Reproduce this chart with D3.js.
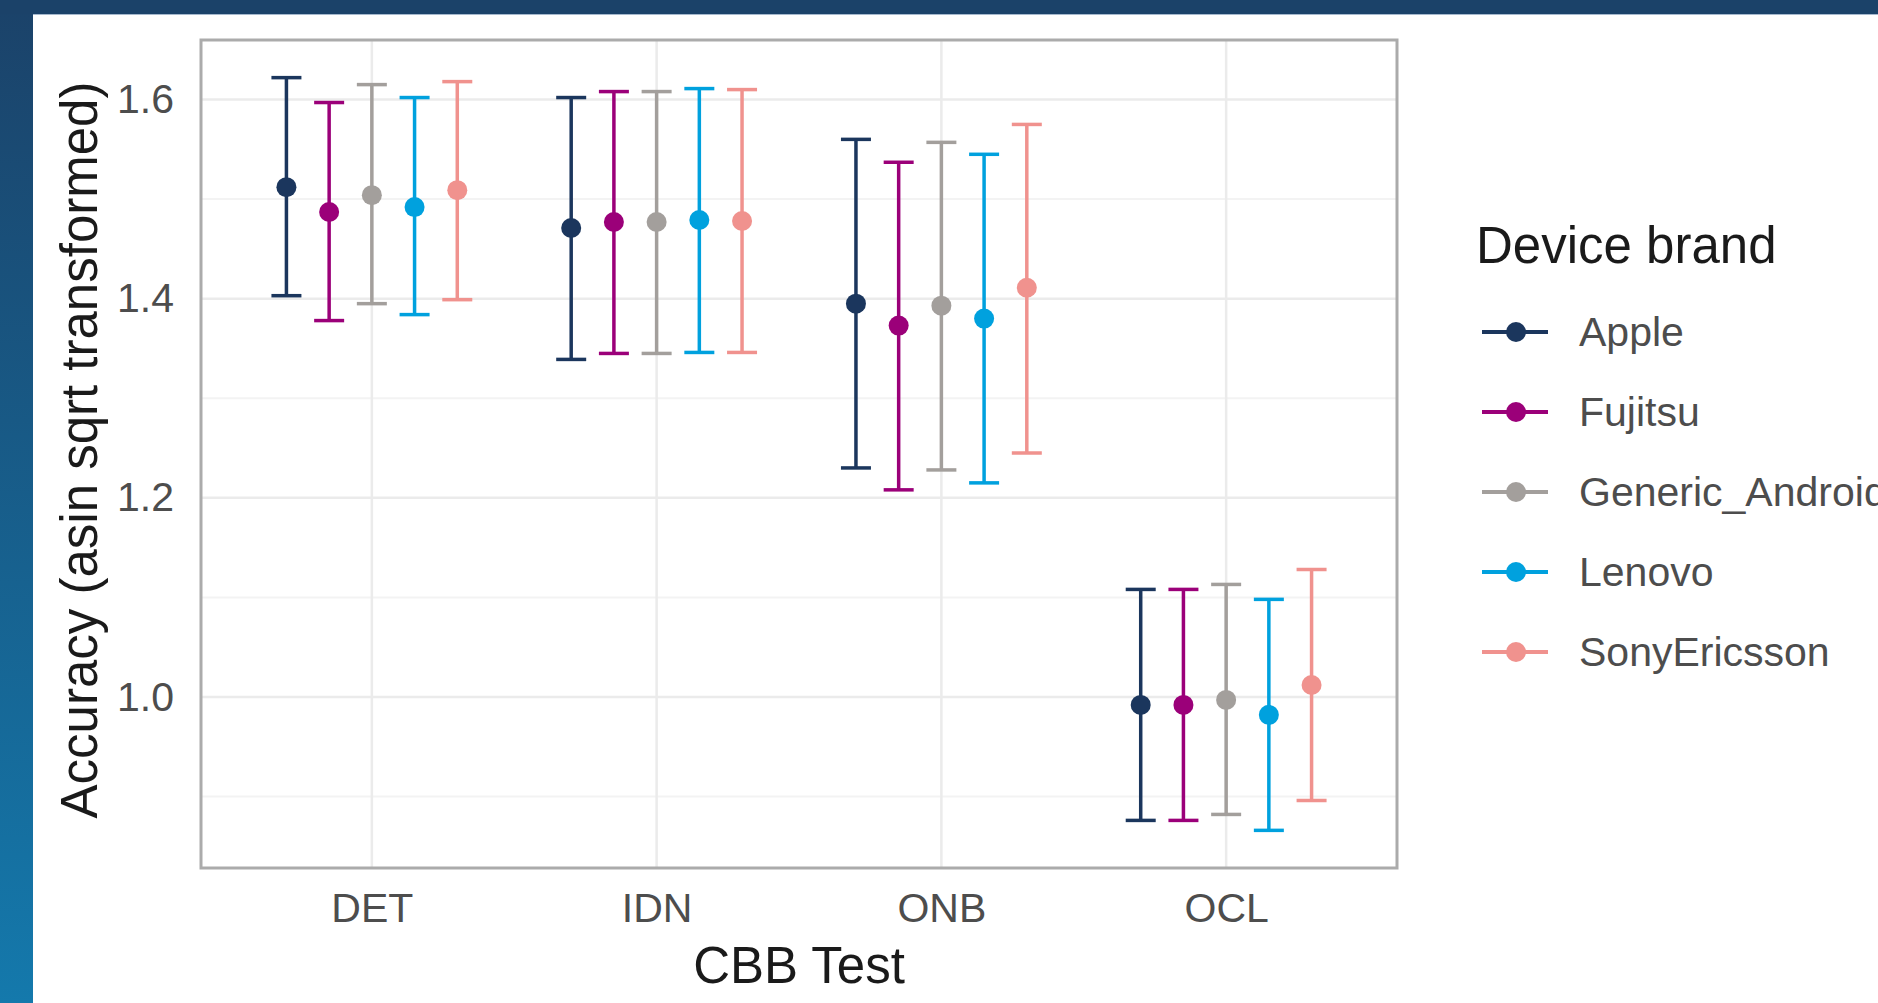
<html>
<head>
<style>
    body { margin: 0; background: #fff; }
    svg text { font-family: "Liberation Sans", Arial, sans-serif; }
</style>
</head>
<body>
    <svg id="chart" width="1878" height="1003"></svg>
<script src="https://d3js.org/d3.v7.min.js" charset="utf-8"></script>
<script>
    // categories / series
    const tests = ["DET", "IDN", "ONB", "OCL"]
    const brands = ["Apple", "Fujitsu", "Generic_Android", "Lenovo", "SonyEricsson"]
    const brandColors = ["#1b365d", "#9b0079", "#a39f9c", "#00a1de", "#f0928e"]

    // estimated mean, one row per brand, one value per test
    const meanAcc = [
        [1.512, 1.471, 1.395, 0.992],
        [1.487, 1.477, 1.373, 0.992],
        [1.504, 1.477, 1.393, 0.997],
        [1.492, 1.479, 1.380, 0.982],
        [1.509, 1.478, 1.411, 1.012]
    ]
    const lowerCI = [
        [1.403, 1.339, 1.230, 0.876],
        [1.378, 1.345, 1.208, 0.876],
        [1.395, 1.345, 1.228, 0.882],
        [1.384, 1.346, 1.215, 0.866],
        [1.399, 1.346, 1.245, 0.896]
    ]
    const upperCI = [
        [1.622, 1.602, 1.560, 1.108],
        [1.597, 1.608, 1.537, 1.108],
        [1.615, 1.608, 1.557, 1.113],
        [1.602, 1.611, 1.545, 1.098],
        [1.618, 1.610, 1.575, 1.128]
    ]

    const yTicks = [1.0, 1.2, 1.4, 1.6]
    const yMinor = [0.9, 1.1, 1.3, 1.5]

    // flatten to rows
    let data = []
    brands.forEach((b, i) => {
        tests.forEach((t, j) => {
            data.push({ brand: b, bi: i, test: t, mean: meanAcc[i][j], lo: lowerCI[i][j], hi: upperCI[i][j] })
        })
    })

    let svg = d3.select("#chart")
    let W = 1878, H = 1003
    let panel = { left: 201, top: 40, right: 1397, bottom: 868 }

    // background frame
    let defs = svg.append("defs")
    let grad = defs.append("linearGradient").attr("id", "sideGrad")
        .attr("x1", 0).attr("y1", 0).attr("x2", 0).attr("y2", 1)
    grad.append("stop").attr("offset", "0%").attr("stop-color", "#1b4269")
    grad.append("stop").attr("offset", "100%").attr("stop-color", "#1479ac")

    svg.append("rect").attr("width", W).attr("height", H).attr("fill", "#fff")
    svg.append("rect").attr("x", 0).attr("y", 0).attr("width", 33).attr("height", H).attr("fill", "url(#sideGrad)")
    svg.append("rect").attr("x", 0).attr("y", 0).attr("width", W).attr("height", 14).attr("fill", "#1b4269")
    svg.append("line").attr("x1", 33).attr("x2", W).attr("y1", 14.5).attr("y2", 14.5)
        .attr("stroke", "#a5b8cd").attr("stroke-width", 1)

    // scales
    let lo = d3.min(data, d => d.lo), hi = d3.max(data, d => d.hi)
    let pad = (hi - lo) * 0.05
    let yScale = d3.scaleLinear()
        .domain([lo - pad, hi + pad])
        .range([panel.bottom, panel.top])

    let xScale = d3.scalePoint()
        .domain(tests)
        .range([panel.left, panel.right])
        .padding(0.6)

    let dodge = xScale.step() * 0.15
    let xPos = d => xScale(d.test) + (d.bi - 2) * dodge
    let capHalf = 15

    // grid
    let grid = svg.append("g")
    grid.selectAll(".minor").data(yMinor).enter().append("line")
        .attr("x1", panel.left).attr("x2", panel.right)
        .attr("y1", d => yScale(d)).attr("y2", d => yScale(d))
        .attr("stroke", "#f3f3f3").attr("stroke-width", 2)
    grid.selectAll(".major").data(yTicks).enter().append("line")
        .attr("x1", panel.left).attr("x2", panel.right)
        .attr("y1", d => yScale(d)).attr("y2", d => yScale(d))
        .attr("stroke", "#ebebeb").attr("stroke-width", 2.5)
    grid.selectAll(".vmajor").data(tests).enter().append("line")
        .attr("x1", d => xScale(d)).attr("x2", d => xScale(d))
        .attr("y1", panel.top).attr("y2", panel.bottom)
        .attr("stroke", "#ebebeb").attr("stroke-width", 2.5)

    // error bars
    let marks = svg.append("g")
    let bars = marks.selectAll("g.bar").data(data).enter().append("g")
        .attr("stroke", d => brandColors[d.bi])
        .attr("fill", d => brandColors[d.bi])

    bars.append("line")
        .attr("x1", xPos).attr("x2", xPos)
        .attr("y1", d => yScale(d.lo)).attr("y2", d => yScale(d.hi))
        .attr("stroke-width", 3.5)
    bars.append("line")
        .attr("x1", d => xPos(d) - capHalf).attr("x2", d => xPos(d) + capHalf)
        .attr("y1", d => yScale(d.hi)).attr("y2", d => yScale(d.hi))
        .attr("stroke-width", 3.5)
    bars.append("line")
        .attr("x1", d => xPos(d) - capHalf).attr("x2", d => xPos(d) + capHalf)
        .attr("y1", d => yScale(d.lo)).attr("y2", d => yScale(d.lo))
        .attr("stroke-width", 3.5)
    bars.append("circle")
        .attr("cx", xPos).attr("cy", d => yScale(d.mean))
        .attr("r", 10).attr("stroke", "none")

    // panel border
    svg.append("rect")
        .attr("x", panel.left).attr("y", panel.top)
        .attr("width", panel.right - panel.left).attr("height", panel.bottom - panel.top)
        .attr("fill", "none").attr("stroke", "#ababab").attr("stroke-width", 3)

    // axes
    let yAxis = d3.axisLeft(yScale).tickValues(yTicks).tickFormat(d3.format(".1f"))
        .tickSize(0).tickPadding(27)
    let yG = svg.append("g").attr("transform", `translate(${panel.left},0)`).call(yAxis)
    yG.select(".domain").remove()
    yG.selectAll("text").attr("font-size", 41).attr("fill", "#4d4d4d")
        .style("font-family", "'Liberation Sans', Arial, sans-serif")

    let xAxis = d3.axisBottom(xScale).tickSize(0).tickPadding(25)
    let xG = svg.append("g").attr("transform", `translate(0,${panel.bottom})`).call(xAxis)
    xG.select(".domain").remove()
    xG.selectAll("text").attr("font-size", 41).attr("fill", "#4d4d4d")
        .style("font-family", "'Liberation Sans', Arial, sans-serif")

    // axis titles
    svg.append("text")
        .attr("x", (panel.left + panel.right) / 2).attr("y", 983)
        .attr("text-anchor", "middle").attr("font-size", 51).attr("fill", "#1a1a1a")
        .text("CBB Test")
    svg.append("text")
        .attr("transform", `translate(97,${(panel.top + panel.bottom) / 2 - 4}) rotate(-90)`)
        .attr("text-anchor", "middle").attr("font-size", 51).attr("fill", "#1a1a1a")
        .text("Accuracy (asin sqrt transformed)")

    // legend
    let legend = svg.append("g")
    legend.append("text").attr("x", 1476).attr("y", 263)
        .attr("font-size", 51).attr("fill", "#1a1a1a").text("Device brand")
    let items = legend.selectAll("g.item").data(brands).enter().append("g")
        .attr("transform", (d, i) => `translate(0,${332 + i * 80})`)
    items.append("line").attr("x1", 1482).attr("x2", 1548)
        .attr("stroke", (d, i) => brandColors[i]).attr("stroke-width", 4)
    items.append("circle").attr("cx", 1516).attr("r", 10)
        .attr("fill", (d, i) => brandColors[i])
    items.append("text").attr("x", 1579).attr("dy", "0.35em")
        .attr("font-size", 41).attr("fill", "#4d4d4d").text(d => d)
</script>
</body>
</html>
